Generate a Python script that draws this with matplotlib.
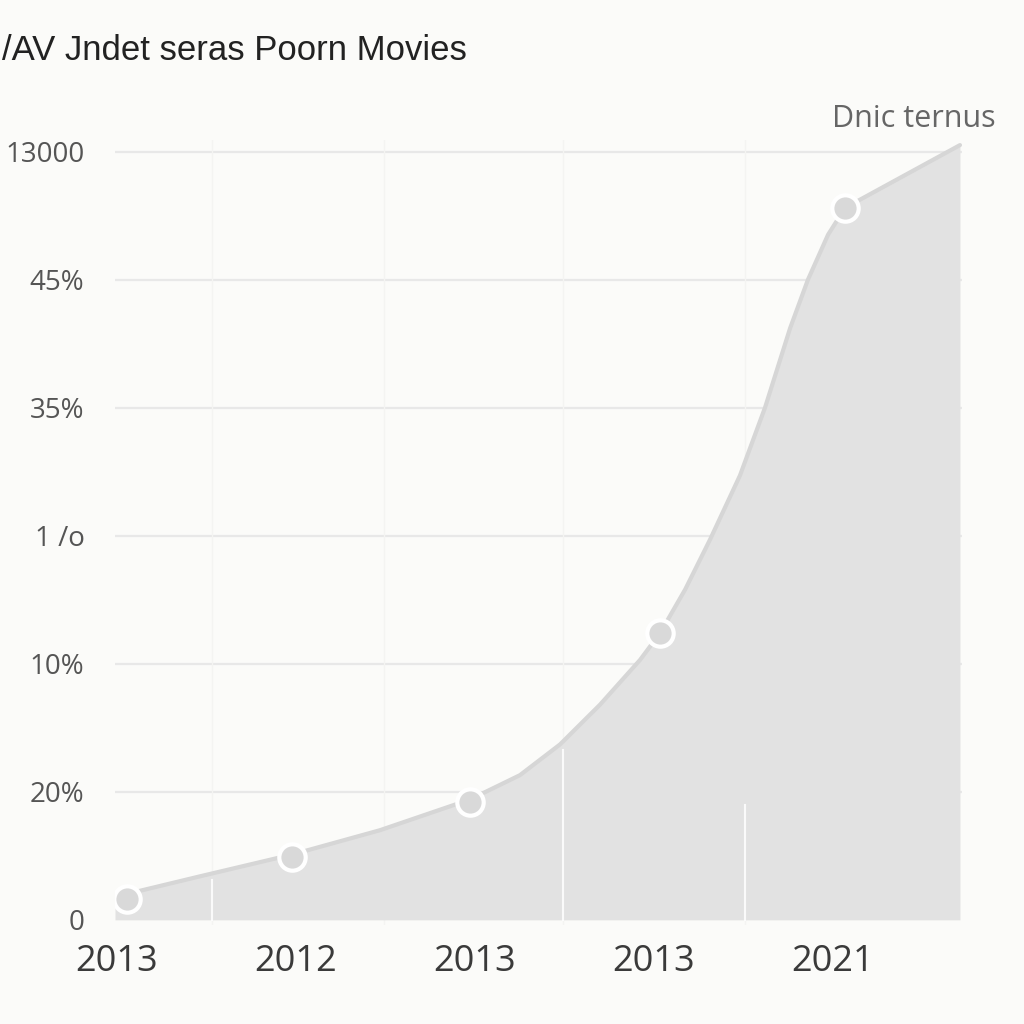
import matplotlib
matplotlib.use("Agg")
import matplotlib.pyplot as plt

# ---- data ----
x_labels = ["2013", "2012", "2013", "2013", "2021"]
y_labels = ["0", "20%", "10%", "1 /o", "35%", "45%", "13000"]
marker_x = [0.056, 0.978, 1.972, 3.034, 4.067]
marker_y = [0.16, 0.49, 0.92, 2.24, 5.56]
curve_x = [-0.011, 0.464, 0.978, 1.469, 1.972, 2.251, 2.475, 2.698, 2.922,
           3.034, 3.174, 3.313, 3.480, 3.620, 3.760, 3.860, 3.972, 4.067,
           4.709]
curve_y = [0.18, 0.34, 0.51, 0.70, 0.94, 1.13, 1.37, 1.68, 2.03,
           2.24, 2.58, 2.97, 3.47, 4.00, 4.62, 5.00, 5.35, 5.56,
           6.05]
vgrid_x = [0.53, 1.49, 2.49, 3.51]
vgrid_white_top = [0.31, 0.0, 1.33, 0.9]
title = "/AV Jndet seras Poorn Movies"
series_label = "Dnic ternus"

plt.rcParams['font.family'] = ['Open Sans', 'DejaVu Sans']

fig = plt.figure(figsize=(10.24, 10.24), dpi=100, facecolor="#fbfbf9")
ax = fig.add_axes([0.1123, 0.0967, 0.8271, 0.7666])
ax.set_facecolor("#fbfbf9")

ax.set_xlim(-0.011, 4.72)
ax.set_ylim(-0.04, 6.09)

# grid
for lvl in range(1, 7):
    ax.axhline(lvl, color="#e8e8e8", lw=1.6, zorder=1)
for vx in vgrid_x:
    ax.axvline(vx, color="#f4f4f2", lw=1.0, zorder=1)

# area
ax.fill_between(curve_x, 0, curve_y, color="#e2e2e2", lw=0, zorder=2)
ax.plot(curve_x, curve_y, color="#d6d6d6", lw=3, zorder=3,
        solid_capstyle="round", solid_joinstyle="round")

# white vertical streaks inside fill
for vx, top in zip(vgrid_x, vgrid_white_top):
    if top > 0:
        ax.plot([vx, vx], [0, top], color="white", lw=1.5, alpha=0.85, zorder=3)

# markers
ax.plot(marker_x, marker_y, ls="none", marker="o", markersize=19,
        markerfacecolor="#d9d9d9", markeredgecolor="white",
        markeredgewidth=3, zorder=4)

ax.set_xticks(range(len(x_labels)))
ax.set_xticklabels(x_labels, fontsize=26, color="#3a3a3a")
ax.set_yticks(range(len(y_labels)))
ax.set_yticklabels(y_labels, fontsize=20, color="#555555")
ax.tick_params(axis="x", length=0, pad=14)
ax.tick_params(axis="y", length=0, pad=22)
for s in ax.spines.values():
    s.set_visible(False)

fig.text(0.002, 0.951, title, fontsize=25, color="#222222",
         ha="left", va="center", family=["Liberation Sans", "DejaVu Sans"])
fig.text(0.972, 0.884, series_label, fontsize=22, color="#666666",
         ha="right", va="center")

fig.savefig("out.png", dpi=100, facecolor=fig.get_facecolor())
